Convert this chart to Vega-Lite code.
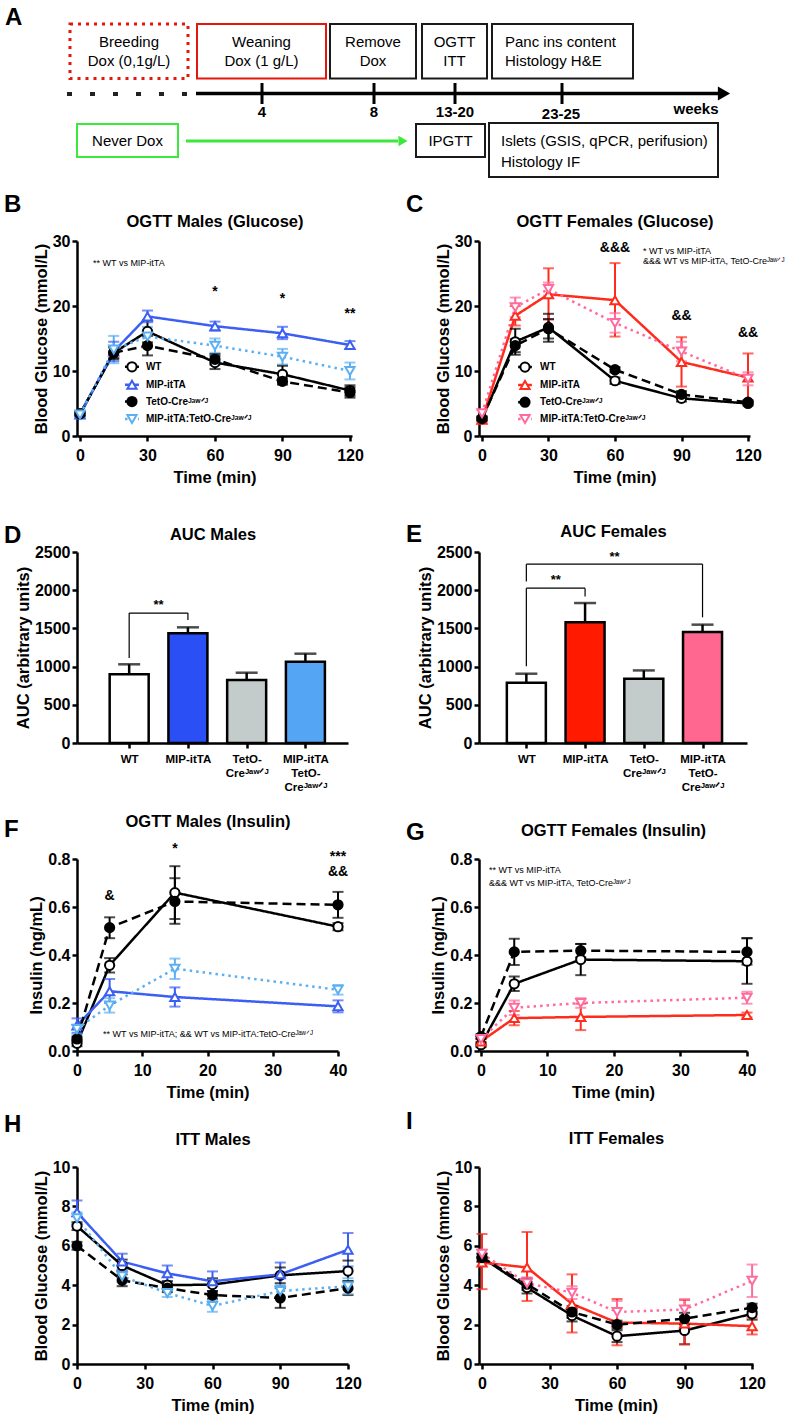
{
"$schema":"https://vega.github.io/schema/vega-lite/v6.json",
"padding":{"left":4,"top":5,"right":0,"bottom":0},
"background":"white",
"config":{"font":"Liberation Sans","view":{"stroke":null},
 "axis":{"domainColor":"black","domainWidth":2.5,"tickColor":"black","tickWidth":2.5,"tickSize":5,"labelFont":"Liberation Sans","labelFontSize":16,"labelFontWeight":"bold","labelColor":"black","titleFont":"Liberation Sans","titleFontSize":16.5,"titleFontWeight":"bold","titleColor":"black","grid":false,"labelFlush":false,"labelOverlap":false},
 "axisX":{"labelPadding":6,"titlePadding":6},
 "axisY":{"labelPadding":2,"titlePadding":3},
 "title":{"fontSize":24,"fontWeight":"bold","anchor":"start","frame":"group","color":"black","font":"Liberation Sans"}
},
"datasets":{
"ogtt":[
{"p":"B","g":"WT","t":0,"m":3.4,"lo":3.0,"hi":3.8},{"p":"B","g":"WT","t":15,"m":12.8,"lo":11.8,"hi":13.8},{"p":"B","g":"WT","t":30,"m":16.1,"lo":14.4,"hi":17.8},{"p":"B","g":"WT","t":60,"m":11.3,"lo":10.3,"hi":12.3},{"p":"B","g":"WT","t":90,"m":9.5,"lo":8.3,"hi":10.8},{"p":"B","g":"WT","t":120,"m":7.0,"lo":6.2,"hi":7.8},
{"p":"B","g":"MIP","t":0,"m":3.3,"lo":3.0,"hi":3.6},{"p":"B","g":"MIP","t":15,"m":13.0,"lo":11.5,"hi":14.5},{"p":"B","g":"MIP","t":30,"m":18.4,"lo":17.5,"hi":19.3},{"p":"B","g":"MIP","t":60,"m":16.9,"lo":16.2,"hi":17.6},{"p":"B","g":"MIP","t":90,"m":15.8,"lo":14.9,"hi":16.8},{"p":"B","g":"MIP","t":120,"m":14.0,"lo":13.4,"hi":14.6},
{"p":"B","g":"TetO","t":0,"m":3.4,"lo":3.1,"hi":3.7},{"p":"B","g":"TetO","t":15,"m":12.8,"lo":12.0,"hi":13.6},{"p":"B","g":"TetO","t":30,"m":13.9,"lo":12.4,"hi":15.4},{"p":"B","g":"TetO","t":60,"m":11.8,"lo":11.0,"hi":12.6},{"p":"B","g":"TetO","t":90,"m":8.4,"lo":7.9,"hi":8.9},{"p":"B","g":"TetO","t":120,"m":6.7,"lo":5.9,"hi":7.5},
{"p":"B","g":"Dbl","t":0,"m":3.3,"lo":3.0,"hi":3.6},{"p":"B","g":"Dbl","t":15,"m":13.3,"lo":11.2,"hi":15.4},{"p":"B","g":"Dbl","t":30,"m":15.3,"lo":13.8,"hi":16.8},{"p":"B","g":"Dbl","t":60,"m":13.9,"lo":12.8,"hi":15.0},{"p":"B","g":"Dbl","t":90,"m":12.2,"lo":11.0,"hi":13.4},{"p":"B","g":"Dbl","t":120,"m":10.0,"lo":8.7,"hi":11.3},
{"p":"C","g":"WT","t":0,"m":2.6,"lo":2.3,"hi":2.9},{"p":"C","g":"WT","t":15,"m":14.5,"lo":12.5,"hi":16.5},{"p":"C","g":"WT","t":30,"m":16.7,"lo":14.5,"hi":18.8},{"p":"C","g":"WT","t":60,"m":8.5,"lo":8.0,"hi":9.0},{"p":"C","g":"WT","t":90,"m":5.8,"lo":5.3,"hi":6.3},{"p":"C","g":"WT","t":120,"m":5.0,"lo":4.7,"hi":5.3},
{"p":"C","g":"MIP","t":0,"m":2.5,"lo":2.0,"hi":3.0},{"p":"C","g":"MIP","t":15,"m":18.5,"lo":17.0,"hi":20.0},{"p":"C","g":"MIP","t":30,"m":21.8,"lo":17.9,"hi":25.8},{"p":"C","g":"MIP","t":60,"m":20.9,"lo":15.3,"hi":26.6},{"p":"C","g":"MIP","t":90,"m":11.4,"lo":7.6,"hi":15.2},{"p":"C","g":"MIP","t":120,"m":9.0,"lo":5.3,"hi":12.7},
{"p":"C","g":"TetO","t":0,"m":2.7,"lo":2.4,"hi":3.0},{"p":"C","g":"TetO","t":15,"m":13.9,"lo":12.9,"hi":14.9},{"p":"C","g":"TetO","t":30,"m":16.5,"lo":15.0,"hi":18.0},{"p":"C","g":"TetO","t":60,"m":10.2,"lo":9.8,"hi":10.6},{"p":"C","g":"TetO","t":90,"m":6.4,"lo":5.9,"hi":6.9},{"p":"C","g":"TetO","t":120,"m":5.2,"lo":4.9,"hi":5.5},
{"p":"C","g":"Dbl","t":0,"m":3.5,"lo":3.0,"hi":4.0},{"p":"C","g":"Dbl","t":15,"m":19.8,"lo":18.3,"hi":21.3},{"p":"C","g":"Dbl","t":30,"m":22.6,"lo":21.6,"hi":23.6},{"p":"C","g":"Dbl","t":60,"m":17.4,"lo":15.9,"hi":18.9},{"p":"C","g":"Dbl","t":90,"m":13.0,"lo":11.5,"hi":14.5},{"p":"C","g":"Dbl","t":120,"m":8.8,"lo":7.8,"hi":9.8},
{"p":"F","g":"WT","t":0,"m":0.032,"lo":0.02,"hi":0.045},{"p":"F","g":"WT","t":5,"m":0.357,"lo":0.327,"hi":0.387},{"p":"F","g":"WT","t":15,"m":0.66,"lo":0.55,"hi":0.77},{"p":"F","g":"WT","t":40,"m":0.518,"lo":0.503,"hi":0.533},
{"p":"F","g":"MIP","t":0,"m":0.106,"lo":0.076,"hi":0.136},{"p":"F","g":"MIP","t":5,"m":0.249,"lo":0.2,"hi":0.3},{"p":"F","g":"MIP","t":15,"m":0.225,"lo":0.185,"hi":0.265},{"p":"F","g":"MIP","t":40,"m":0.186,"lo":0.161,"hi":0.211},
{"p":"F","g":"TetO","t":0,"m":0.05,"lo":0.04,"hi":0.06},{"p":"F","g":"TetO","t":5,"m":0.514,"lo":0.47,"hi":0.557},{"p":"F","g":"TetO","t":15,"m":0.623,"lo":0.53,"hi":0.72},{"p":"F","g":"TetO","t":40,"m":0.609,"lo":0.555,"hi":0.663},
{"p":"F","g":"Dbl","t":0,"m":0.092,"lo":0.07,"hi":0.11},{"p":"F","g":"Dbl","t":5,"m":0.19,"lo":0.16,"hi":0.22},{"p":"F","g":"Dbl","t":15,"m":0.343,"lo":0.3,"hi":0.385},{"p":"F","g":"Dbl","t":40,"m":0.255,"lo":0.235,"hi":0.275},
{"p":"G","g":"WT","t":0,"m":0.026,"lo":0.016,"hi":0.036},{"p":"G","g":"WT","t":5,"m":0.28,"lo":0.25,"hi":0.31},{"p":"G","g":"WT","t":15,"m":0.381,"lo":0.316,"hi":0.446},{"p":"G","g":"WT","t":40,"m":0.374,"lo":0.28,"hi":0.47},
{"p":"G","g":"MIP","t":0,"m":0.04,"lo":0.03,"hi":0.05},{"p":"G","g":"MIP","t":5,"m":0.137,"lo":0.107,"hi":0.167},{"p":"G","g":"MIP","t":15,"m":0.142,"lo":0.087,"hi":0.197},{"p":"G","g":"MIP","t":40,"m":0.15,"lo":0.14,"hi":0.16},
{"p":"G","g":"TetO","t":0,"m":0.06,"lo":0.05,"hi":0.07},{"p":"G","g":"TetO","t":5,"m":0.413,"lo":0.358,"hi":0.468},{"p":"G","g":"TetO","t":15,"m":0.418,"lo":0.39,"hi":0.446},{"p":"G","g":"TetO","t":40,"m":0.413,"lo":0.36,"hi":0.47},
{"p":"G","g":"Dbl","t":0,"m":0.05,"lo":0.04,"hi":0.06},{"p":"G","g":"Dbl","t":5,"m":0.18,"lo":0.15,"hi":0.21},{"p":"G","g":"Dbl","t":15,"m":0.2,"lo":0.18,"hi":0.22},{"p":"G","g":"Dbl","t":40,"m":0.222,"lo":0.197,"hi":0.247},
{"p":"H","g":"WT","t":0,"m":7.0,"lo":6.8,"hi":7.2},{"p":"H","g":"WT","t":20,"m":5.0,"lo":4.7,"hi":5.3},{"p":"H","g":"WT","t":40,"m":4.0,"lo":3.8,"hi":4.2},{"p":"H","g":"WT","t":60,"m":4.03,"lo":3.7,"hi":4.35},{"p":"H","g":"WT","t":90,"m":4.5,"lo":4.1,"hi":4.9},{"p":"H","g":"WT","t":120,"m":4.72,"lo":4.2,"hi":5.25},
{"p":"H","g":"MIP","t":0,"m":7.7,"lo":7.1,"hi":8.3},{"p":"H","g":"MIP","t":20,"m":5.2,"lo":4.8,"hi":5.6},{"p":"H","g":"MIP","t":40,"m":4.6,"lo":4.2,"hi":5.0},{"p":"H","g":"MIP","t":60,"m":4.2,"lo":3.7,"hi":4.7},{"p":"H","g":"MIP","t":90,"m":4.55,"lo":3.95,"hi":5.15},{"p":"H","g":"MIP","t":120,"m":5.8,"lo":4.95,"hi":6.65},
{"p":"H","g":"TetO","t":0,"m":6.0,"lo":5.8,"hi":6.2},{"p":"H","g":"TetO","t":20,"m":4.25,"lo":3.95,"hi":4.55},{"p":"H","g":"TetO","t":40,"m":3.85,"lo":3.65,"hi":4.05},{"p":"H","g":"TetO","t":60,"m":3.5,"lo":3.3,"hi":3.7},{"p":"H","g":"TetO","t":90,"m":3.35,"lo":2.85,"hi":3.85},{"p":"H","g":"TetO","t":120,"m":3.85,"lo":3.5,"hi":4.2},
{"p":"H","g":"Dbl","t":0,"m":7.4,"lo":7.1,"hi":7.7},{"p":"H","g":"Dbl","t":20,"m":4.45,"lo":4.15,"hi":4.75},{"p":"H","g":"Dbl","t":40,"m":3.6,"lo":3.4,"hi":3.8},{"p":"H","g":"Dbl","t":60,"m":2.95,"lo":2.65,"hi":3.25},{"p":"H","g":"Dbl","t":90,"m":3.7,"lo":3.4,"hi":4.0},{"p":"H","g":"Dbl","t":120,"m":3.95,"lo":3.55,"hi":4.35},
{"p":"I","g":"WT","t":0,"m":5.4,"lo":5.2,"hi":5.6},{"p":"I","g":"WT","t":20,"m":3.88,"lo":3.58,"hi":4.18},{"p":"I","g":"WT","t":40,"m":2.46,"lo":2.16,"hi":2.76},{"p":"I","g":"WT","t":60,"m":1.41,"lo":1.11,"hi":1.71},{"p":"I","g":"WT","t":90,"m":1.7,"lo":1.0,"hi":2.4},{"p":"I","g":"WT","t":120,"m":2.55,"lo":2.25,"hi":2.85},
{"p":"I","g":"MIP","t":0,"m":5.15,"lo":3.8,"hi":6.6},{"p":"I","g":"MIP","t":20,"m":4.9,"lo":3.2,"hi":6.7},{"p":"I","g":"MIP","t":40,"m":3.05,"lo":1.6,"hi":4.55},{"p":"I","g":"MIP","t":60,"m":2.1,"lo":0.95,"hi":3.3},{"p":"I","g":"MIP","t":90,"m":2.05,"lo":1.0,"hi":3.25},{"p":"I","g":"MIP","t":120,"m":1.92,"lo":1.5,"hi":2.35},
{"p":"I","g":"TetO","t":0,"m":5.4,"lo":5.2,"hi":5.6},{"p":"I","g":"TetO","t":20,"m":4.05,"lo":3.75,"hi":4.35},{"p":"I","g":"TetO","t":40,"m":2.64,"lo":2.34,"hi":2.94},{"p":"I","g":"TetO","t":60,"m":2.0,"lo":1.8,"hi":2.2},{"p":"I","g":"TetO","t":90,"m":2.3,"lo":2.0,"hi":2.6},{"p":"I","g":"TetO","t":120,"m":2.86,"lo":2.66,"hi":3.06},
{"p":"I","g":"Dbl","t":0,"m":5.6,"lo":5.4,"hi":5.8},{"p":"I","g":"Dbl","t":20,"m":4.1,"lo":3.8,"hi":4.4},{"p":"I","g":"Dbl","t":40,"m":3.62,"lo":3.3,"hi":3.95},{"p":"I","g":"Dbl","t":60,"m":2.64,"lo":2.1,"hi":3.2},{"p":"I","g":"Dbl","t":90,"m":2.77,"lo":2.25,"hi":3.3},{"p":"I","g":"Dbl","t":120,"m":4.22,"lo":3.4,"hi":5.05}
],
"leg":[
{"p":"B","g":"WT","x0":20.0,"x1":26.2,"xs":23.1,"xt":29.3,"y":10.65,"s":"WT"},
{"p":"B","g":"MIP","x0":20.0,"x1":26.2,"xs":23.1,"xt":29.3,"y":7.9,"s":"MIP-itTA"},
{"p":"B","g":"TetO","x0":20.0,"x1":26.2,"xs":23.1,"xt":29.3,"y":5.3,"s":"TetO-Creᴶᵃʷᐟᴶ"},
{"p":"B","g":"Dbl","x0":20.0,"x1":26.2,"xs":23.1,"xt":29.3,"y":2.6,"s":"MIP-itTA:TetO-Creᴶᵃʷᐟᴶ"},
{"p":"C","g":"WT","x0":16.3,"x1":22.5,"xs":19.4,"xt":26.2,"y":10.6,"s":"WT"},
{"p":"C","g":"MIP","x0":16.3,"x1":22.5,"xs":19.4,"xt":26.2,"y":7.85,"s":"MIP-itTA"},
{"p":"C","g":"TetO","x0":16.3,"x1":22.5,"xs":19.4,"xt":26.2,"y":5.2,"s":"TetO-Creᴶᵃʷᐟᴶ"},
{"p":"C","g":"Dbl","x0":16.3,"x1":22.5,"xs":19.4,"xt":26.2,"y":2.6,"s":"MIP-itTA:TetO-Creᴶᵃʷᐟᴶ"}
],
"ann":[
{"p":"B","k":"s","t":60,"y":22.1,"s":"*"},{"p":"B","k":"s","t":90,"y":21.1,"s":"*"},{"p":"B","k":"s","t":120,"y":18.8,"s":"**"},
{"p":"B","k":"n","t":5.8,"y":26.6,"s":"** WT vs MIP-itTA"},
{"p":"C","k":"s","t":60,"y":28.9,"s":"&&&"},{"p":"C","k":"s","t":90,"y":18.5,"s":"&&"},{"p":"C","k":"s","t":120,"y":15.8,"s":"&&"},
{"p":"C","k":"n","t":72.6,"y":28.4,"s":"* WT vs MIP-itTA"},{"p":"C","k":"n","t":72.6,"y":27.0,"s":"&&& WT vs MIP-itTA, TetO-Creᴶᵃʷᐟᴶ"},
{"p":"F","k":"s","t":5,"y":0.644,"s":"&"},{"p":"F","k":"s","t":15,"y":0.842,"s":"*"},{"p":"F","k":"s","t":40,"y":0.81,"s":"***"},{"p":"F","k":"s","t":40,"y":0.745,"s":"&&"},
{"p":"F","k":"n","t":4.0,"y":0.071,"s":"** WT vs MIP-itTA; && WT vs MIP-itTA:TetO-Creᴶᵃʷᐟᴶ"},
{"p":"G","k":"n","t":1.2,"y":0.754,"s":"** WT vs MIP-itTA"},{"p":"G","k":"n","t":1.2,"y":0.70,"s":"&&& WT vs MIP-itTA, TetO-Creᴶᵃʷᐟᴶ"}
],
"auc":[
{"p":"D","i":1,"g":"WT","m":899,"hi":1030},{"p":"D","i":2,"g":"MIP","m":1436,"hi":1514},{"p":"D","i":3,"g":"TetO","m":824,"hi":920},{"p":"D","i":4,"g":"Dbl","m":1064,"hi":1169},
{"p":"E","i":1,"g":"WT","m":790,"hi":907},{"p":"E","i":2,"g":"MIP","m":1579,"hi":1832},{"p":"E","i":3,"g":"TetO","m":842,"hi":950},{"p":"E","i":4,"g":"Dbl","m":1452,"hi":1549}
],
"br":[
{"p":"D","a":1,"b":2,"y":1700,"ya":1112,"yb":1610,"mid":1.5,"ys":1806,"s":"**"},
{"p":"E","a":1,"b":2,"y":2027,"ya":1006,"yb":1918,"mid":1.5,"ys":2135,"s":"**"},
{"p":"E","a":1,"b":4,"y":2340,"ya":2113,"yb":1645,"mid":2.5,"ys":2439,"s":"**"}
]
},
"vconcat":[
{
 "width":726,"height":180,
 "layer":[
  {"data":{"values":[
    {"x1":38.6,"x2":64.4,"y1":3.8,"y2":14.7,"k":"red"},
    {"x1":65.2,"x2":82.4,"y1":3.8,"y2":14.7,"k":"black"},
    {"x1":83.6,"x2":96.6,"y1":3.8,"y2":14.7,"k":"black"},
    {"x1":97.6,"x2":125.8,"y1":3.8,"y2":14.7,"k":"black"},
    {"x1":14.6,"x2":34.8,"y1":23.8,"y2":30.4,"k":"green"},
    {"x1":82.4,"x2":96.2,"y1":23.8,"y2":30.4,"k":"black"},
    {"x1":97,"x2":142.8,"y1":23.6,"y2":34.4,"k":"black"}]},
   "mark":{"type":"rect","fill":"white","strokeWidth":2},
   "encoding":{
    "x":{"field":"x1","type":"quantitative","scale":{"domain":[14.6,159.8],"nice":false,"zero":false},"axis":null},
    "x2":{"field":"x2"},
    "y":{"field":"y1","type":"quantitative","scale":{"domain":[0,36],"reverse":true,"nice":false,"zero":false},"axis":null},
    "y2":{"field":"y2"},
    "stroke":{"field":"k","type":"nominal","scale":{"domain":["red","black","green"],"range":["#e3170a","#1a1a1a","#3de83d"]},"legend":null}}},
  {"data":{"values":[{"x1":13.2,"x2":36.8,"y1":3.8,"y2":14.7}]},
   "mark":{"type":"rect","fill":"white","stroke":"#e3170a","strokeWidth":3,"strokeDash":[3,5]},
   "encoding":{"x":{"field":"x1","type":"quantitative"},"x2":{"field":"x2"},"y":{"field":"y1","type":"quantitative"},"y2":{"field":"y2"}}},
  {"data":{"values":[{"x1":12.6,"x2":36.8,"y":17.8}]},"mark":{"type":"rule","strokeWidth":4,"strokeDash":[5,18],"color":"#222222"},
   "encoding":{"x":{"field":"x1","type":"quantitative"},"x2":{"field":"x2"},"y":{"field":"y","type":"quantitative"}}},
  {"data":{"values":[{"x1":38.4,"x2":143,"y":17.7}]},"mark":{"type":"rule","strokeWidth":3.5,"color":"black"},
   "encoding":{"x":{"field":"x1","type":"quantitative"},"x2":{"field":"x2"},"y":{"field":"y","type":"quantitative"}}},
  {"data":{"values":[{"x":51.6,"y1":15.6,"y2":19.8},{"x":74,"y1":15.6,"y2":19.8},{"x":90.2,"y1":15.6,"y2":19.8},{"x":111.6,"y1":15.6,"y2":19.8}]},"mark":{"type":"rule","strokeWidth":3,"color":"black"},
   "encoding":{"x":{"field":"x","type":"quantitative"},"y":{"field":"y1","type":"quantitative"},"y2":{"field":"y2"}}},
  {"data":{"values":[{"x":144,"y":17.7}]},"mark":{"type":"point","shape":"triangle-right","filled":true,"size":200,"color":"black","opacity":1},
   "encoding":{"x":{"field":"x","type":"quantitative"},"y":{"field":"y","type":"quantitative"}}},
  {"data":{"values":[{"x1":36.4,"x2":78.8,"y":27.2}]},"mark":{"type":"rule","strokeWidth":3,"color":"#3de83d"},
   "encoding":{"x":{"field":"x1","type":"quantitative"},"x2":{"field":"x2"},"y":{"field":"y","type":"quantitative"}}},
  {"data":{"values":[{"x":79.8,"y":27.2}]},"mark":{"type":"point","shape":"triangle-right","filled":true,"size":110,"color":"#3de83d","opacity":1},
   "encoding":{"x":{"field":"x","type":"quantitative"},"y":{"field":"y","type":"quantitative"}}},
  {"data":{"values":[{"x":25,"y":7.3,"s":"Breeding"},{"x":25,"y":11.2,"s":"Dox (0,1g/L)"},{"x":51.5,"y":7.3,"s":"Weaning"},{"x":51.5,"y":11.2,"s":"Dox (1 g/L)"},{"x":73.8,"y":7.3,"s":"Remove"},{"x":73.8,"y":11.2,"s":"Dox"},{"x":90.1,"y":7.3,"s":"OGTT"},{"x":90.1,"y":11.2,"s":"ITT"},{"x":24.7,"y":27.2,"s":"Never Dox"},{"x":89.3,"y":27.2,"s":"IPGTT"}]},
   "mark":{"type":"text","fontSize":15,"align":"center","baseline":"middle","color":"black"},
   "encoding":{"x":{"field":"x","type":"quantitative"},"y":{"field":"y","type":"quantitative"},"text":{"field":"s"}}},
  {"data":{"values":[{"x":100.2,"y":7.3,"s":"Panc ins content"},{"x":100.2,"y":11.2,"s":"Histology H&E"},{"x":99.4,"y":27.2,"s":"Islets (GSIS, qPCR, perifusion)"},{"x":99.4,"y":31.4,"s":"Histology IF"}]},
   "mark":{"type":"text","fontSize":15,"align":"left","baseline":"middle","color":"black"},
   "encoding":{"x":{"field":"x","type":"quantitative"},"y":{"field":"y","type":"quantitative"},"text":{"field":"s"}}},
  {"data":{"values":[{"x":51.6,"y":21.4,"s":"4"},{"x":74,"y":21.4,"s":"8"},{"x":90.2,"y":21.4,"s":"13-20"},{"x":111.4,"y":21.7,"s":"23-25"},{"x":138.4,"y":20.7,"s":"weeks"}]},
   "mark":{"type":"text","fontSize":15,"fontWeight":"bold","align":"center","baseline":"middle","color":"black"},
   "encoding":{"x":{"field":"x","type":"quantitative"},"y":{"field":"y","type":"quantitative"},"text":{"field":"s"}}},
  {"data":{"values":[{"x":0.2,"y":2.5,"s":"A"}]},
   "mark":{"type":"text","fontSize":24,"fontWeight":"bold","align":"left","baseline":"middle","color":"black"},
   "encoding":{"x":{"field":"x","type":"quantitative"},"y":{"field":"y","type":"quantitative"},"text":{"field":"s"}}}
 ]
},
{
 "columns":2,
 "bounds":"flush",
 "spacing":{"row":116,"column":127},
 "resolve":{"scale":{"stroke":"independent","fill":"independent","shape":"independent","color":"independent","strokeDash":"independent"}},
 "concat":[
 {
  "title":{"text":"B","dx":-73,"offset":-4},
  "width":275,"height":195,
  "resolve":{"axis":{"x":"independent"}},
  "layer":[
   {"data":{"values":[]},"mark":"rule","encoding":{"x":{"field":"t","type":"quantitative","scale":{"domain":[-1.33,120.9],"nice":false,"zero":false},"axis":{"orient":"top","title":"OGTT Males (Glucose)","labels":false,"ticks":false,"domain":false,"titlePadding":12}}}},
   {"data":{"name":"ogtt"},"transform":[{"filter":"datum.p=='B'"}],
    "encoding":{"x":{"field":"t","type":"quantitative","scale":{"domain":[-1.33,120.9],"nice":false,"zero":false},"axis":{"values":[0,30,60,90,120]},"title":"Time (min)"}},
    "layer":[
     {"mark":{"type":"line","strokeWidth":2.5},"encoding":{
       "y":{"field":"m","type":"quantitative","scale":{"domain":[0,30],"nice":false,"zero":false},"axis":{"values":[0,10,20,30],"labelOverlap":false},"title":"Blood Glucose (mmol/L)"},
       "stroke":{"field":"g","type":"nominal","scale":{"domain":["WT","MIP","TetO","Dbl"],"range":["#000000","#3b5ef3","#000000","#5cb0f2"]},"legend":null},
       "strokeDash":{"field":"g","type":"nominal","scale":{"domain":["WT","MIP","TetO","Dbl"],"range":[[1,0],[1,0],[9,5],[2.5,4]]},"legend":null}}},
     {"mark":{"type":"rule","strokeWidth":2},"encoding":{
       "y":{"field":"lo","type":"quantitative","scale":{"domain":[0,30],"nice":false,"zero":false},"axis":{"values":[0,10,20,30],"labelOverlap":false},"title":"Blood Glucose (mmol/L)"},"y2":{"field":"hi"},
       "color":{"field":"g","type":"nominal","scale":{"domain":["WT","MIP","TetO","Dbl"],"range":["#000000","#3b5ef3","#000000","#5cb0f2"]},"legend":null}}},
     {"mark":{"type":"tick","orient":"horizontal","size":11,"thickness":2},"encoding":{
       "y":{"field":"lo","type":"quantitative","scale":{"domain":[0,30],"nice":false,"zero":false},"axis":{"values":[0,10,20,30],"labelOverlap":false},"title":"Blood Glucose (mmol/L)"},
       "color":{"field":"g","type":"nominal","scale":{"domain":["WT","MIP","TetO","Dbl"],"range":["#000000","#3b5ef3","#000000","#5cb0f2"]},"legend":null}}},
     {"mark":{"type":"tick","orient":"horizontal","size":11,"thickness":2},"encoding":{
       "y":{"field":"hi","type":"quantitative","scale":{"domain":[0,30],"nice":false,"zero":false},"axis":{"values":[0,10,20,30],"labelOverlap":false},"title":"Blood Glucose (mmol/L)"},
       "color":{"field":"g","type":"nominal","scale":{"domain":["WT","MIP","TetO","Dbl"],"range":["#000000","#3b5ef3","#000000","#5cb0f2"]},"legend":null}}},
     {"mark":{"type":"point","filled":true,"size":85,"strokeWidth":2,"opacity":1},"encoding":{
       "y":{"field":"m","type":"quantitative","scale":{"domain":[0,30],"nice":false,"zero":false},"axis":{"values":[0,10,20,30],"labelOverlap":false},"title":"Blood Glucose (mmol/L)"},
       "stroke":{"field":"g","type":"nominal","scale":{"domain":["WT","MIP","TetO","Dbl"],"range":["#000000","#3b5ef3","#000000","#5cb0f2"]},"legend":null},
       "fill":{"field":"g","type":"nominal","scale":{"domain":["WT","MIP","TetO","Dbl"],"range":["#ffffff","#ffffff","#000000","#ffffff"]},"legend":null},
       "shape":{"field":"g","type":"nominal","scale":{"domain":["WT","MIP","TetO","Dbl"],"range":["circle","triangle-up","circle","triangle-down"]},"legend":null}}},
     {"data":{"name":"leg"},"transform":[{"filter":"datum.p=='B'"}],"mark":{"type":"rule","strokeWidth":2.5},"encoding":{
       "x":{"field":"x0","type":"quantitative","scale":{"domain":[-1.33,120.9],"nice":false,"zero":false},"axis":{"values":[0,30,60,90,120]},"title":"Time (min)"},"x2":{"field":"x1"},
       "y":{"field":"y","type":"quantitative","scale":{"domain":[0,30],"nice":false,"zero":false},"axis":{"values":[0,10,20,30],"labelOverlap":false},"title":"Blood Glucose (mmol/L)"},
       "stroke":{"field":"g","type":"nominal","scale":{"domain":["WT","MIP","TetO","Dbl"],"range":["#000000","#3b5ef3","#000000","#5cb0f2"]},"legend":null},
       "strokeDash":{"field":"g","type":"nominal","scale":{"domain":["WT","MIP","TetO","Dbl"],"range":[[1,0],[1,0],[9,5],[2.5,4]]},"legend":null}}},
     {"data":{"name":"leg"},"transform":[{"filter":"datum.p=='B'"}],"mark":{"type":"point","filled":true,"size":85,"strokeWidth":2,"opacity":1},"encoding":{
       "x":{"field":"xs","type":"quantitative","scale":{"domain":[-1.33,120.9],"nice":false,"zero":false},"axis":{"values":[0,30,60,90,120]},"title":"Time (min)"},
       "y":{"field":"y","type":"quantitative","scale":{"domain":[0,30],"nice":false,"zero":false},"axis":{"values":[0,10,20,30],"labelOverlap":false},"title":"Blood Glucose (mmol/L)"},
       "stroke":{"field":"g","type":"nominal","scale":{"domain":["WT","MIP","TetO","Dbl"],"range":["#000000","#3b5ef3","#000000","#5cb0f2"]},"legend":null},
       "fill":{"field":"g","type":"nominal","scale":{"domain":["WT","MIP","TetO","Dbl"],"range":["#ffffff","#ffffff","#000000","#ffffff"]},"legend":null},
       "shape":{"field":"g","type":"nominal","scale":{"domain":["WT","MIP","TetO","Dbl"],"range":["circle","triangle-up","circle","triangle-down"]},"legend":null}}},
     {"data":{"name":"leg"},"transform":[{"filter":"datum.p=='B'"}],"mark":{"type":"text","fontSize":10,"fontWeight":"bold","align":"left","baseline":"middle","color":"black"},"encoding":{
       "x":{"field":"xt","type":"quantitative","scale":{"domain":[-1.33,120.9],"nice":false,"zero":false},"axis":{"values":[0,30,60,90,120]},"title":"Time (min)"},
       "y":{"field":"y","type":"quantitative","scale":{"domain":[0,30],"nice":false,"zero":false},"axis":{"values":[0,10,20,30],"labelOverlap":false},"title":"Blood Glucose (mmol/L)"},
       "text":{"field":"s"}}},
     {"data":{"name":"ann"},"transform":[{"filter":"datum.p=='B' && datum.k=='s'"}],"mark":{"type":"text","fontSize":14,"fontWeight":"bold","baseline":"middle","color":"black"},
      "encoding":{"y":{"field":"y","type":"quantitative","scale":{"domain":[0,30],"nice":false,"zero":false},"axis":{"values":[0,10,20,30],"labelOverlap":false},"title":"Blood Glucose (mmol/L)"},"text":{"field":"s"}}},
     {"data":{"name":"ann"},"transform":[{"filter":"datum.p=='B' && datum.k=='n'"}],"mark":{"type":"text","fontSize":9,"align":"left","baseline":"middle","color":"black"},
      "encoding":{"y":{"field":"y","type":"quantitative","scale":{"domain":[0,30],"nice":false,"zero":false},"axis":{"values":[0,10,20,30],"labelOverlap":false},"title":"Blood Glucose (mmol/L)"},"text":{"field":"s"}}}
    ]}
  ]
 },
 {
  "title":{"text":"C","dx":-73,"offset":-4},
  "width":271,"height":195,
  "resolve":{"axis":{"x":"independent"}},
  "layer":[
   {"data":{"values":[]},"mark":"rule","encoding":{"x":{"field":"t","type":"quantitative","scale":{"domain":[-1.35,120.9],"nice":false,"zero":false},"axis":{"orient":"top","title":"OGTT Females (Glucose)","labels":false,"ticks":false,"domain":false,"titlePadding":12}}}},
   {"data":{"name":"ogtt"},"transform":[{"filter":"datum.p=='C'"}],
    "encoding":{"x":{"field":"t","type":"quantitative","scale":{"domain":[-1.35,120.9],"nice":false,"zero":false},"axis":{"values":[0,30,60,90,120]},"title":"Time (min)"}},
    "layer":[
     {"mark":{"type":"line","strokeWidth":2.5},"encoding":{
       "y":{"field":"m","type":"quantitative","scale":{"domain":[0,30],"nice":false,"zero":false},"axis":{"values":[0,10,20,30],"labelOverlap":false},"title":"Blood Glucose (mmol/L)"},
       "stroke":{"field":"g","type":"nominal","scale":{"domain":["WT","MIP","TetO","Dbl"],"range":["#000000","#ff2b1c","#000000","#ff6b9c"]},"legend":null},
       "strokeDash":{"field":"g","type":"nominal","scale":{"domain":["WT","MIP","TetO","Dbl"],"range":[[1,0],[1,0],[9,5],[2.5,4]]},"legend":null}}},
     {"mark":{"type":"rule","strokeWidth":2},"encoding":{
       "y":{"field":"lo","type":"quantitative","scale":{"domain":[0,30],"nice":false,"zero":false},"axis":{"values":[0,10,20,30],"labelOverlap":false},"title":"Blood Glucose (mmol/L)"},"y2":{"field":"hi"},
       "color":{"field":"g","type":"nominal","scale":{"domain":["WT","MIP","TetO","Dbl"],"range":["#000000","#ff2b1c","#000000","#ff6b9c"]},"legend":null}}},
     {"mark":{"type":"tick","orient":"horizontal","size":11,"thickness":2},"encoding":{
       "y":{"field":"lo","type":"quantitative","scale":{"domain":[0,30],"nice":false,"zero":false},"axis":{"values":[0,10,20,30],"labelOverlap":false},"title":"Blood Glucose (mmol/L)"},
       "color":{"field":"g","type":"nominal","scale":{"domain":["WT","MIP","TetO","Dbl"],"range":["#000000","#ff2b1c","#000000","#ff6b9c"]},"legend":null}}},
     {"mark":{"type":"tick","orient":"horizontal","size":11,"thickness":2},"encoding":{
       "y":{"field":"hi","type":"quantitative","scale":{"domain":[0,30],"nice":false,"zero":false},"axis":{"values":[0,10,20,30],"labelOverlap":false},"title":"Blood Glucose (mmol/L)"},
       "color":{"field":"g","type":"nominal","scale":{"domain":["WT","MIP","TetO","Dbl"],"range":["#000000","#ff2b1c","#000000","#ff6b9c"]},"legend":null}}},
     {"mark":{"type":"point","filled":true,"size":85,"strokeWidth":2,"opacity":1},"encoding":{
       "y":{"field":"m","type":"quantitative","scale":{"domain":[0,30],"nice":false,"zero":false},"axis":{"values":[0,10,20,30],"labelOverlap":false},"title":"Blood Glucose (mmol/L)"},
       "stroke":{"field":"g","type":"nominal","scale":{"domain":["WT","MIP","TetO","Dbl"],"range":["#000000","#ff2b1c","#000000","#ff6b9c"]},"legend":null},
       "fill":{"field":"g","type":"nominal","scale":{"domain":["WT","MIP","TetO","Dbl"],"range":["#ffffff","#ffffff","#000000","#ffffff"]},"legend":null},
       "shape":{"field":"g","type":"nominal","scale":{"domain":["WT","MIP","TetO","Dbl"],"range":["circle","triangle-up","circle","triangle-down"]},"legend":null}}},
     {"data":{"name":"leg"},"transform":[{"filter":"datum.p=='C'"}],"mark":{"type":"rule","strokeWidth":2.5},"encoding":{
       "x":{"field":"x0","type":"quantitative","scale":{"domain":[-1.35,120.9],"nice":false,"zero":false},"axis":{"values":[0,30,60,90,120]},"title":"Time (min)"},"x2":{"field":"x1"},
       "y":{"field":"y","type":"quantitative","scale":{"domain":[0,30],"nice":false,"zero":false},"axis":{"values":[0,10,20,30],"labelOverlap":false},"title":"Blood Glucose (mmol/L)"},
       "stroke":{"field":"g","type":"nominal","scale":{"domain":["WT","MIP","TetO","Dbl"],"range":["#000000","#ff2b1c","#000000","#ff6b9c"]},"legend":null},
       "strokeDash":{"field":"g","type":"nominal","scale":{"domain":["WT","MIP","TetO","Dbl"],"range":[[1,0],[1,0],[9,5],[2.5,4]]},"legend":null}}},
     {"data":{"name":"leg"},"transform":[{"filter":"datum.p=='C'"}],"mark":{"type":"point","filled":true,"size":85,"strokeWidth":2,"opacity":1},"encoding":{
       "x":{"field":"xs","type":"quantitative","scale":{"domain":[-1.35,120.9],"nice":false,"zero":false},"axis":{"values":[0,30,60,90,120]},"title":"Time (min)"},
       "y":{"field":"y","type":"quantitative","scale":{"domain":[0,30],"nice":false,"zero":false},"axis":{"values":[0,10,20,30],"labelOverlap":false},"title":"Blood Glucose (mmol/L)"},
       "stroke":{"field":"g","type":"nominal","scale":{"domain":["WT","MIP","TetO","Dbl"],"range":["#000000","#ff2b1c","#000000","#ff6b9c"]},"legend":null},
       "fill":{"field":"g","type":"nominal","scale":{"domain":["WT","MIP","TetO","Dbl"],"range":["#ffffff","#ffffff","#000000","#ffffff"]},"legend":null},
       "shape":{"field":"g","type":"nominal","scale":{"domain":["WT","MIP","TetO","Dbl"],"range":["circle","triangle-up","circle","triangle-down"]},"legend":null}}},
     {"data":{"name":"leg"},"transform":[{"filter":"datum.p=='C'"}],"mark":{"type":"text","fontSize":10,"fontWeight":"bold","align":"left","baseline":"middle","color":"black"},"encoding":{
       "x":{"field":"xt","type":"quantitative","scale":{"domain":[-1.35,120.9],"nice":false,"zero":false},"axis":{"values":[0,30,60,90,120]},"title":"Time (min)"},
       "y":{"field":"y","type":"quantitative","scale":{"domain":[0,30],"nice":false,"zero":false},"axis":{"values":[0,10,20,30],"labelOverlap":false},"title":"Blood Glucose (mmol/L)"},
       "text":{"field":"s"}}},
     {"data":{"name":"ann"},"transform":[{"filter":"datum.p=='C' && datum.k=='s'"}],"mark":{"type":"text","fontSize":14,"fontWeight":"bold","baseline":"middle","color":"black"},
      "encoding":{"y":{"field":"y","type":"quantitative","scale":{"domain":[0,30],"nice":false,"zero":false},"axis":{"values":[0,10,20,30],"labelOverlap":false},"title":"Blood Glucose (mmol/L)"},"text":{"field":"s"}}},
     {"data":{"name":"ann"},"transform":[{"filter":"datum.p=='C' && datum.k=='n'"}],"mark":{"type":"text","fontSize":9,"align":"left","baseline":"middle","color":"black"},
      "encoding":{"y":{"field":"y","type":"quantitative","scale":{"domain":[0,30],"nice":false,"zero":false},"axis":{"values":[0,10,20,30],"labelOverlap":false},"title":"Blood Glucose (mmol/L)"},"text":{"field":"s"}}}
    ]}
  ]
 },
 {
  "title":{"text":"D","dx":-73,"offset":-22},
  "width":271,"height":191,
  "resolve":{"axis":{"x":"independent"}},
  "layer":[
   {"data":{"values":[]},"mark":"rule","encoding":{"x":{"field":"i","type":"quantitative","scale":{"domain":[0.197,4.64],"nice":false,"zero":false},"axis":{"orient":"top","title":"AUC Males","labels":false,"ticks":false,"domain":false,"titlePadding":10}}}},
   {"encoding":{"x":{"field":"i","type":"quantitative","scale":{"domain":[0.197,4.64],"nice":false,"zero":false},"title":null,"axis":{"values":[1,2,3,4],"labelFontSize":11.5,"labelLineHeight":14,"labelPadding":5,"labelBaseline":"top","labelExpr":"datum.value==1?'WT':datum.value==2?'MIP-itTA':datum.value==3?['TetO-','Creᴶᵃʷᐟᴶ']:['MIP-itTA','TetO-','Creᴶᵃʷᐟᴶ']"}}},
    "layer":[
     {"data":{"name":"auc"},"transform":[{"filter":"datum.p=='D'"}],"mark":{"type":"rule","strokeWidth":2.5,"color":"black"},
      "encoding":{"y":{"field":"m","type":"quantitative","scale":{"domain":[0,2500],"nice":false},"axis":{"values":[0,500,1000,1500,2000,2500],"format":"d","labelOverlap":false},"title":"AUC (arbitrary units)"},"y2":{"field":"hi"}}},
     {"data":{"name":"auc"},"transform":[{"filter":"datum.p=='D'"}],"mark":{"type":"tick","orient":"horizontal","size":22,"thickness":2.5,"color":"black"},
      "encoding":{"y":{"field":"hi","type":"quantitative","scale":{"domain":[0,2500],"nice":false},"axis":{"values":[0,500,1000,1500,2000,2500],"format":"d","labelOverlap":false},"title":"AUC (arbitrary units)"}}},
     {"data":{"name":"auc"},"transform":[{"filter":"datum.p=='D'"}],"mark":{"type":"bar","orient":"vertical","width":39,"stroke":"black","strokeWidth":2.5},
      "encoding":{"y":{"field":"m","type":"quantitative","stack":null,"scale":{"domain":[0,2500],"nice":false},"axis":{"values":[0,500,1000,1500,2000,2500],"format":"d","labelOverlap":false},"title":"AUC (arbitrary units)"},
       "fill":{"field":"g","type":"nominal","scale":{"domain":["WT","MIP","TetO","Dbl"],"range":["#ffffff","#2a4ff5","#c3cbcb","#55a5f5"]},"legend":null}}},
     {"data":{"name":"br"},"transform":[{"filter":"datum.p=='D'"}],"mark":{"type":"rule","strokeWidth":1.2,"color":"black"},
      "encoding":{"x":{"field":"a","type":"quantitative","title":null},"x2":{"field":"b"},"y":{"field":"y","type":"quantitative","axis":{"values":[0,500,1000,1500,2000,2500],"format":"d","labelOverlap":false},"title":"AUC (arbitrary units)"}}},
     {"data":{"name":"br"},"transform":[{"filter":"datum.p=='D'"}],"mark":{"type":"rule","strokeWidth":1.2,"color":"black"},
      "encoding":{"x":{"field":"a","type":"quantitative","title":null},"y":{"field":"ya","type":"quantitative","axis":{"values":[0,500,1000,1500,2000,2500],"format":"d","labelOverlap":false},"title":"AUC (arbitrary units)"},"y2":{"field":"y"}}},
     {"data":{"name":"br"},"transform":[{"filter":"datum.p=='D'"}],"mark":{"type":"rule","strokeWidth":1.2,"color":"black"},
      "encoding":{"x":{"field":"b","type":"quantitative","title":null},"y":{"field":"yb","type":"quantitative","axis":{"values":[0,500,1000,1500,2000,2500],"format":"d","labelOverlap":false},"title":"AUC (arbitrary units)"},"y2":{"field":"y"}}},
     {"data":{"name":"br"},"transform":[{"filter":"datum.p=='D'"}],"mark":{"type":"text","fontSize":13,"fontWeight":"bold","baseline":"middle","color":"black"},
      "encoding":{"x":{"field":"mid","type":"quantitative","title":null},"y":{"field":"ys","type":"quantitative","axis":{"values":[0,500,1000,1500,2000,2500],"format":"d","labelOverlap":false},"title":"AUC (arbitrary units)"},"text":{"field":"s"}}}
    ]}
  ]
 },
 {
  "title":{"text":"E","dx":-73,"offset":-24},
  "width":268,"height":191,
  "resolve":{"axis":{"x":"independent"}},
  "layer":[
   {"data":{"values":[]},"mark":"rule","encoding":{"x":{"field":"i","type":"quantitative","scale":{"domain":[0.279,4.672],"nice":false,"zero":false},"axis":{"orient":"top","title":"AUC Females","labels":false,"ticks":false,"domain":false,"titlePadding":13}}}},
   {"encoding":{"x":{"field":"i","type":"quantitative","scale":{"domain":[0.279,4.672],"nice":false,"zero":false},"title":null,"axis":{"values":[1,2,3,4],"labelFontSize":11.5,"labelLineHeight":14,"labelPadding":5,"labelBaseline":"top","labelExpr":"datum.value==1?'WT':datum.value==2?'MIP-itTA':datum.value==3?['TetO-','Creᴶᵃʷᐟᴶ']:['MIP-itTA','TetO-','Creᴶᵃʷᐟᴶ']"}}},
    "layer":[
     {"data":{"name":"auc"},"transform":[{"filter":"datum.p=='E'"}],"mark":{"type":"rule","strokeWidth":2.5,"color":"black"},
      "encoding":{"y":{"field":"m","type":"quantitative","scale":{"domain":[0,2500],"nice":false},"axis":{"values":[0,500,1000,1500,2000,2500],"format":"d","labelOverlap":false},"title":"AUC (arbitrary units)"},"y2":{"field":"hi"}}},
     {"data":{"name":"auc"},"transform":[{"filter":"datum.p=='E'"}],"mark":{"type":"tick","orient":"horizontal","size":22,"thickness":2.5,"color":"black"},
      "encoding":{"y":{"field":"hi","type":"quantitative","scale":{"domain":[0,2500],"nice":false},"axis":{"values":[0,500,1000,1500,2000,2500],"format":"d","labelOverlap":false},"title":"AUC (arbitrary units)"}}},
     {"data":{"name":"auc"},"transform":[{"filter":"datum.p=='E'"}],"mark":{"type":"bar","orient":"vertical","width":39,"stroke":"black","strokeWidth":2.5},
      "encoding":{"y":{"field":"m","type":"quantitative","stack":null,"scale":{"domain":[0,2500],"nice":false},"axis":{"values":[0,500,1000,1500,2000,2500],"format":"d","labelOverlap":false},"title":"AUC (arbitrary units)"},
       "fill":{"field":"g","type":"nominal","scale":{"domain":["WT","MIP","TetO","Dbl"],"range":["#ffffff","#ff1a00","#c3cbcb","#ff6690"]},"legend":null}}},
     {"data":{"name":"br"},"transform":[{"filter":"datum.p=='E'"}],"mark":{"type":"rule","strokeWidth":1.2,"color":"black"},
      "encoding":{"x":{"field":"a","type":"quantitative","title":null},"x2":{"field":"b"},"y":{"field":"y","type":"quantitative","axis":{"values":[0,500,1000,1500,2000,2500],"format":"d","labelOverlap":false},"title":"AUC (arbitrary units)"}}},
     {"data":{"name":"br"},"transform":[{"filter":"datum.p=='E'"}],"mark":{"type":"rule","strokeWidth":1.2,"color":"black"},
      "encoding":{"x":{"field":"a","type":"quantitative","title":null},"y":{"field":"ya","type":"quantitative","axis":{"values":[0,500,1000,1500,2000,2500],"format":"d","labelOverlap":false},"title":"AUC (arbitrary units)"},"y2":{"field":"y"}}},
     {"data":{"name":"br"},"transform":[{"filter":"datum.p=='E'"}],"mark":{"type":"rule","strokeWidth":1.2,"color":"black"},
      "encoding":{"x":{"field":"b","type":"quantitative","title":null},"y":{"field":"yb","type":"quantitative","axis":{"values":[0,500,1000,1500,2000,2500],"format":"d","labelOverlap":false},"title":"AUC (arbitrary units)"},"y2":{"field":"y"}}},
     {"data":{"name":"br"},"transform":[{"filter":"datum.p=='E'"}],"mark":{"type":"text","fontSize":13,"fontWeight":"bold","baseline":"middle","color":"black"},
      "encoding":{"x":{"field":"mid","type":"quantitative","title":null},"y":{"field":"ys","type":"quantitative","axis":{"values":[0,500,1000,1500,2000,2500],"format":"d","labelOverlap":false},"title":"AUC (arbitrary units)"},"text":{"field":"s"}}}
    ]}
  ]
 },
 {
  "title":{"text":"F","dx":-73,"offset":-29},
  "width":261,"height":192,
  "resolve":{"axis":{"x":"independent"}},
  "layer":[
   {"data":{"values":[]},"mark":"rule","encoding":{"x":{"field":"t","type":"quantitative","scale":{"domain":[0,40],"nice":false,"zero":false},"axis":{"orient":"top","title":"OGTT Males (Insulin)","labels":false,"ticks":false,"domain":false,"titlePadding":30}}}},
   {"data":{"name":"ogtt"},"transform":[{"filter":"datum.p=='F'"}],
    "encoding":{"x":{"field":"t","type":"quantitative","scale":{"domain":[0,40],"nice":false,"zero":false},"axis":{"values":[0,10,20,30,40]},"title":"Time (min)"}},
    "layer":[
     {"mark":{"type":"line","strokeWidth":2.5},"encoding":{
       "y":{"field":"m","type":"quantitative","scale":{"domain":[0,0.8],"nice":false,"zero":false},"axis":{"values":[0,0.2,0.4,0.6,0.8],"format":".1f","labelOverlap":false},"title":"Insulin (ng/mL)"},
       "stroke":{"field":"g","type":"nominal","scale":{"domain":["WT","MIP","TetO","Dbl"],"range":["#000000","#3b5ef3","#000000","#5cb0f2"]},"legend":null},
       "strokeDash":{"field":"g","type":"nominal","scale":{"domain":["WT","MIP","TetO","Dbl"],"range":[[1,0],[1,0],[9,5],[2.5,4]]},"legend":null}}},
     {"mark":{"type":"rule","strokeWidth":2},"encoding":{
       "y":{"field":"lo","type":"quantitative","scale":{"domain":[0,0.8],"nice":false,"zero":false},"axis":{"values":[0,0.2,0.4,0.6,0.8],"format":".1f","labelOverlap":false},"title":"Insulin (ng/mL)"},"y2":{"field":"hi"},
       "color":{"field":"g","type":"nominal","scale":{"domain":["WT","MIP","TetO","Dbl"],"range":["#000000","#3b5ef3","#000000","#5cb0f2"]},"legend":null}}},
     {"mark":{"type":"tick","orient":"horizontal","size":11,"thickness":2},"encoding":{
       "y":{"field":"lo","type":"quantitative","scale":{"domain":[0,0.8],"nice":false,"zero":false},"axis":{"values":[0,0.2,0.4,0.6,0.8],"format":".1f","labelOverlap":false},"title":"Insulin (ng/mL)"},
       "color":{"field":"g","type":"nominal","scale":{"domain":["WT","MIP","TetO","Dbl"],"range":["#000000","#3b5ef3","#000000","#5cb0f2"]},"legend":null}}},
     {"mark":{"type":"tick","orient":"horizontal","size":11,"thickness":2},"encoding":{
       "y":{"field":"hi","type":"quantitative","scale":{"domain":[0,0.8],"nice":false,"zero":false},"axis":{"values":[0,0.2,0.4,0.6,0.8],"format":".1f","labelOverlap":false},"title":"Insulin (ng/mL)"},
       "color":{"field":"g","type":"nominal","scale":{"domain":["WT","MIP","TetO","Dbl"],"range":["#000000","#3b5ef3","#000000","#5cb0f2"]},"legend":null}}},
     {"mark":{"type":"point","filled":true,"size":85,"strokeWidth":2,"opacity":1},"encoding":{
       "y":{"field":"m","type":"quantitative","scale":{"domain":[0,0.8],"nice":false,"zero":false},"axis":{"values":[0,0.2,0.4,0.6,0.8],"format":".1f","labelOverlap":false},"title":"Insulin (ng/mL)"},
       "stroke":{"field":"g","type":"nominal","scale":{"domain":["WT","MIP","TetO","Dbl"],"range":["#000000","#3b5ef3","#000000","#5cb0f2"]},"legend":null},
       "fill":{"field":"g","type":"nominal","scale":{"domain":["WT","MIP","TetO","Dbl"],"range":["#ffffff","#ffffff","#000000","#ffffff"]},"legend":null},
       "shape":{"field":"g","type":"nominal","scale":{"domain":["WT","MIP","TetO","Dbl"],"range":["circle","triangle-up","circle","triangle-down"]},"legend":null}}},
     {"data":{"name":"ann"},"transform":[{"filter":"datum.p=='F' && datum.k=='s'"}],"mark":{"type":"text","fontSize":14,"fontWeight":"bold","baseline":"middle","color":"black"},
      "encoding":{"y":{"field":"y","type":"quantitative","scale":{"domain":[0,0.8],"nice":false,"zero":false},"axis":{"values":[0,0.2,0.4,0.6,0.8],"format":".1f","labelOverlap":false},"title":"Insulin (ng/mL)"},"text":{"field":"s"}}},
     {"data":{"name":"ann"},"transform":[{"filter":"datum.p=='F' && datum.k=='n'"}],"mark":{"type":"text","fontSize":9,"align":"left","baseline":"middle","color":"black"},
      "encoding":{"y":{"field":"y","type":"quantitative","scale":{"domain":[0,0.8],"nice":false,"zero":false},"axis":{"values":[0,0.2,0.4,0.6,0.8],"format":".1f","labelOverlap":false},"title":"Insulin (ng/mL)"},"text":{"field":"s"}}}
    ]}
  ]
 },
 {
  "title":{"text":"G","dx":-73,"offset":-23},
  "width":268,"height":192,
  "resolve":{"axis":{"x":"independent"}},
  "layer":[
   {"data":{"values":[]},"mark":"rule","encoding":{"x":{"field":"t","type":"quantitative","scale":{"domain":[-0.3,40],"nice":false,"zero":false},"axis":{"orient":"top","title":"OGTT Females (Insulin)","labels":false,"ticks":false,"domain":false,"titlePadding":21}}}},
   {"data":{"name":"ogtt"},"transform":[{"filter":"datum.p=='G'"}],
    "encoding":{"x":{"field":"t","type":"quantitative","scale":{"domain":[-0.3,40],"nice":false,"zero":false},"axis":{"values":[0,10,20,30,40]},"title":"Time (min)"}},
    "layer":[
     {"mark":{"type":"line","strokeWidth":2.5},"encoding":{
       "y":{"field":"m","type":"quantitative","scale":{"domain":[0,0.8],"nice":false,"zero":false},"axis":{"values":[0,0.2,0.4,0.6,0.8],"format":".1f","labelOverlap":false},"title":"Insulin (ng/mL)"},
       "stroke":{"field":"g","type":"nominal","scale":{"domain":["WT","MIP","TetO","Dbl"],"range":["#000000","#ff2b1c","#000000","#ff6b9c"]},"legend":null},
       "strokeDash":{"field":"g","type":"nominal","scale":{"domain":["WT","MIP","TetO","Dbl"],"range":[[1,0],[1,0],[9,5],[2.5,4]]},"legend":null}}},
     {"mark":{"type":"rule","strokeWidth":2},"encoding":{
       "y":{"field":"lo","type":"quantitative","scale":{"domain":[0,0.8],"nice":false,"zero":false},"axis":{"values":[0,0.2,0.4,0.6,0.8],"format":".1f","labelOverlap":false},"title":"Insulin (ng/mL)"},"y2":{"field":"hi"},
       "color":{"field":"g","type":"nominal","scale":{"domain":["WT","MIP","TetO","Dbl"],"range":["#000000","#ff2b1c","#000000","#ff6b9c"]},"legend":null}}},
     {"mark":{"type":"tick","orient":"horizontal","size":11,"thickness":2},"encoding":{
       "y":{"field":"lo","type":"quantitative","scale":{"domain":[0,0.8],"nice":false,"zero":false},"axis":{"values":[0,0.2,0.4,0.6,0.8],"format":".1f","labelOverlap":false},"title":"Insulin (ng/mL)"},
       "color":{"field":"g","type":"nominal","scale":{"domain":["WT","MIP","TetO","Dbl"],"range":["#000000","#ff2b1c","#000000","#ff6b9c"]},"legend":null}}},
     {"mark":{"type":"tick","orient":"horizontal","size":11,"thickness":2},"encoding":{
       "y":{"field":"hi","type":"quantitative","scale":{"domain":[0,0.8],"nice":false,"zero":false},"axis":{"values":[0,0.2,0.4,0.6,0.8],"format":".1f","labelOverlap":false},"title":"Insulin (ng/mL)"},
       "color":{"field":"g","type":"nominal","scale":{"domain":["WT","MIP","TetO","Dbl"],"range":["#000000","#ff2b1c","#000000","#ff6b9c"]},"legend":null}}},
     {"mark":{"type":"point","filled":true,"size":85,"strokeWidth":2,"opacity":1},"encoding":{
       "y":{"field":"m","type":"quantitative","scale":{"domain":[0,0.8],"nice":false,"zero":false},"axis":{"values":[0,0.2,0.4,0.6,0.8],"format":".1f","labelOverlap":false},"title":"Insulin (ng/mL)"},
       "stroke":{"field":"g","type":"nominal","scale":{"domain":["WT","MIP","TetO","Dbl"],"range":["#000000","#ff2b1c","#000000","#ff6b9c"]},"legend":null},
       "fill":{"field":"g","type":"nominal","scale":{"domain":["WT","MIP","TetO","Dbl"],"range":["#ffffff","#ffffff","#000000","#ffffff"]},"legend":null},
       "shape":{"field":"g","type":"nominal","scale":{"domain":["WT","MIP","TetO","Dbl"],"range":["circle","triangle-up","circle","triangle-down"]},"legend":null}}},
     {"data":{"name":"ann"},"transform":[{"filter":"datum.p=='G' && datum.k=='n'"}],"mark":{"type":"text","fontSize":9,"align":"left","baseline":"middle","color":"black"},
      "encoding":{"y":{"field":"y","type":"quantitative","scale":{"domain":[0,0.8],"nice":false,"zero":false},"axis":{"values":[0,0.2,0.4,0.6,0.8],"format":".1f","labelOverlap":false},"title":"Insulin (ng/mL)"},"text":{"field":"s"}}}
    ]}
  ]
 },
 {
  "title":{"text":"H","dx":-73,"offset":-6},
  "width":271,"height":197,
  "resolve":{"axis":{"x":"independent"}},
  "layer":[
   {"data":{"values":[]},"mark":"rule","encoding":{"x":{"field":"t","type":"quantitative","scale":{"domain":[0,120],"nice":false,"zero":false},"axis":{"orient":"top","title":"ITT Males","labels":false,"ticks":false,"domain":false,"titlePadding":20}}}},
   {"data":{"name":"ogtt"},"transform":[{"filter":"datum.p=='H'"}],
    "encoding":{"x":{"field":"t","type":"quantitative","scale":{"domain":[0,120],"nice":false,"zero":false},"axis":{"values":[0,30,60,90,120]},"title":"Time (min)"}},
    "layer":[
     {"mark":{"type":"line","strokeWidth":2.5},"encoding":{
       "y":{"field":"m","type":"quantitative","scale":{"domain":[0,10],"nice":false,"zero":false},"axis":{"values":[0,2,4,6,8,10],"labelOverlap":false},"title":"Blood Glucose (mmol/L)"},
       "stroke":{"field":"g","type":"nominal","scale":{"domain":["WT","MIP","TetO","Dbl"],"range":["#000000","#3b5ef3","#000000","#5cb0f2"]},"legend":null},
       "strokeDash":{"field":"g","type":"nominal","scale":{"domain":["WT","MIP","TetO","Dbl"],"range":[[1,0],[1,0],[9,5],[2.5,4]]},"legend":null}}},
     {"mark":{"type":"rule","strokeWidth":2},"encoding":{
       "y":{"field":"lo","type":"quantitative","scale":{"domain":[0,10],"nice":false,"zero":false},"axis":{"values":[0,2,4,6,8,10],"labelOverlap":false},"title":"Blood Glucose (mmol/L)"},"y2":{"field":"hi"},
       "color":{"field":"g","type":"nominal","scale":{"domain":["WT","MIP","TetO","Dbl"],"range":["#000000","#3b5ef3","#000000","#5cb0f2"]},"legend":null}}},
     {"mark":{"type":"tick","orient":"horizontal","size":11,"thickness":2},"encoding":{
       "y":{"field":"lo","type":"quantitative","scale":{"domain":[0,10],"nice":false,"zero":false},"axis":{"values":[0,2,4,6,8,10],"labelOverlap":false},"title":"Blood Glucose (mmol/L)"},
       "color":{"field":"g","type":"nominal","scale":{"domain":["WT","MIP","TetO","Dbl"],"range":["#000000","#3b5ef3","#000000","#5cb0f2"]},"legend":null}}},
     {"mark":{"type":"tick","orient":"horizontal","size":11,"thickness":2},"encoding":{
       "y":{"field":"hi","type":"quantitative","scale":{"domain":[0,10],"nice":false,"zero":false},"axis":{"values":[0,2,4,6,8,10],"labelOverlap":false},"title":"Blood Glucose (mmol/L)"},
       "color":{"field":"g","type":"nominal","scale":{"domain":["WT","MIP","TetO","Dbl"],"range":["#000000","#3b5ef3","#000000","#5cb0f2"]},"legend":null}}},
     {"mark":{"type":"point","filled":true,"size":85,"strokeWidth":2,"opacity":1},"encoding":{
       "y":{"field":"m","type":"quantitative","scale":{"domain":[0,10],"nice":false,"zero":false},"axis":{"values":[0,2,4,6,8,10],"labelOverlap":false},"title":"Blood Glucose (mmol/L)"},
       "stroke":{"field":"g","type":"nominal","scale":{"domain":["WT","MIP","TetO","Dbl"],"range":["#000000","#3b5ef3","#000000","#5cb0f2"]},"legend":null},
       "fill":{"field":"g","type":"nominal","scale":{"domain":["WT","MIP","TetO","Dbl"],"range":["#ffffff","#ffffff","#000000","#ffffff"]},"legend":null},
       "shape":{"field":"g","type":"nominal","scale":{"domain":["WT","MIP","TetO","Dbl"],"range":["circle","triangle-up","circle","triangle-down"]},"legend":null}}}
    ]}
  ]
 },
 {
  "title":{"text":"I","dx":-73,"offset":-4},
  "width":274,"height":197,
  "resolve":{"axis":{"x":"independent"}},
  "layer":[
   {"data":{"values":[]},"mark":"rule","encoding":{"x":{"field":"t","type":"quantitative","scale":{"domain":[-1.33,120.4],"nice":false,"zero":false},"axis":{"orient":"top","title":"ITT Females","labels":false,"ticks":false,"domain":false,"titlePadding":21}}}},
   {"data":{"name":"ogtt"},"transform":[{"filter":"datum.p=='I'"}],
    "encoding":{"x":{"field":"t","type":"quantitative","scale":{"domain":[-1.33,120.4],"nice":false,"zero":false},"axis":{"values":[0,30,60,90,120]},"title":"Time (min)"}},
    "layer":[
     {"mark":{"type":"line","strokeWidth":2.5},"encoding":{
       "y":{"field":"m","type":"quantitative","scale":{"domain":[0,10],"nice":false,"zero":false},"axis":{"values":[0,2,4,6,8,10],"labelOverlap":false},"title":"Blood Glucose (mmol/L)"},
       "stroke":{"field":"g","type":"nominal","scale":{"domain":["WT","MIP","TetO","Dbl"],"range":["#000000","#ff2b1c","#000000","#ff6b9c"]},"legend":null},
       "strokeDash":{"field":"g","type":"nominal","scale":{"domain":["WT","MIP","TetO","Dbl"],"range":[[1,0],[1,0],[9,5],[2.5,4]]},"legend":null}}},
     {"mark":{"type":"rule","strokeWidth":2},"encoding":{
       "y":{"field":"lo","type":"quantitative","scale":{"domain":[0,10],"nice":false,"zero":false},"axis":{"values":[0,2,4,6,8,10],"labelOverlap":false},"title":"Blood Glucose (mmol/L)"},"y2":{"field":"hi"},
       "color":{"field":"g","type":"nominal","scale":{"domain":["WT","MIP","TetO","Dbl"],"range":["#000000","#ff2b1c","#000000","#ff6b9c"]},"legend":null}}},
     {"mark":{"type":"tick","orient":"horizontal","size":11,"thickness":2},"encoding":{
       "y":{"field":"lo","type":"quantitative","scale":{"domain":[0,10],"nice":false,"zero":false},"axis":{"values":[0,2,4,6,8,10],"labelOverlap":false},"title":"Blood Glucose (mmol/L)"},
       "color":{"field":"g","type":"nominal","scale":{"domain":["WT","MIP","TetO","Dbl"],"range":["#000000","#ff2b1c","#000000","#ff6b9c"]},"legend":null}}},
     {"mark":{"type":"tick","orient":"horizontal","size":11,"thickness":2},"encoding":{
       "y":{"field":"hi","type":"quantitative","scale":{"domain":[0,10],"nice":false,"zero":false},"axis":{"values":[0,2,4,6,8,10],"labelOverlap":false},"title":"Blood Glucose (mmol/L)"},
       "color":{"field":"g","type":"nominal","scale":{"domain":["WT","MIP","TetO","Dbl"],"range":["#000000","#ff2b1c","#000000","#ff6b9c"]},"legend":null}}},
     {"mark":{"type":"point","filled":true,"size":85,"strokeWidth":2,"opacity":1},"encoding":{
       "y":{"field":"m","type":"quantitative","scale":{"domain":[0,10],"nice":false,"zero":false},"axis":{"values":[0,2,4,6,8,10],"labelOverlap":false},"title":"Blood Glucose (mmol/L)"},
       "stroke":{"field":"g","type":"nominal","scale":{"domain":["WT","MIP","TetO","Dbl"],"range":["#000000","#ff2b1c","#000000","#ff6b9c"]},"legend":null},
       "fill":{"field":"g","type":"nominal","scale":{"domain":["WT","MIP","TetO","Dbl"],"range":["#ffffff","#ffffff","#000000","#ffffff"]},"legend":null},
       "shape":{"field":"g","type":"nominal","scale":{"domain":["WT","MIP","TetO","Dbl"],"range":["circle","triangle-up","circle","triangle-down"]},"legend":null}}}
    ]}
  ]
 }
 ]
}
],
"spacing":8
}
